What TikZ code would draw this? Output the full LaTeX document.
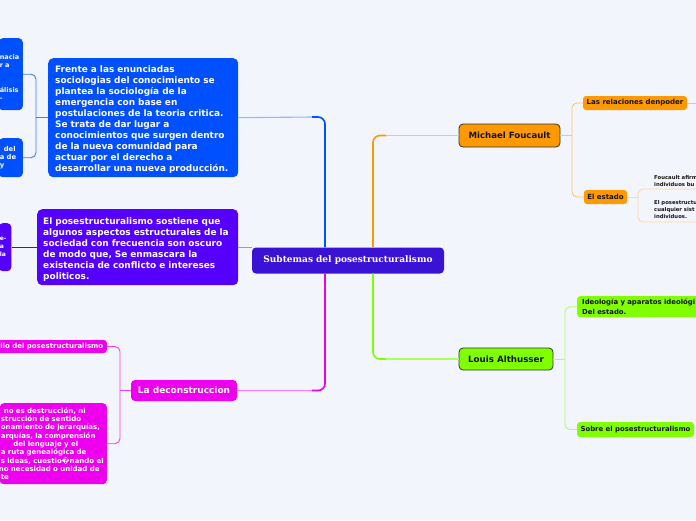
\documentclass[tikz,border=0pt]{standalone}
\usepackage{fontspec}
\setmainfont{DejaVu Sans}
\newfontfamily\serifbf{DejaVu Serif}
\definecolor{bgc}{RGB}{243,245,252}
\definecolor{bluec}{RGB}{0,80,255}
\definecolor{purc}{RGB}{85,0,255}
\definecolor{cenc}{RGB}{58,18,214}
\definecolor{magc}{RGB}{238,0,238}
\definecolor{orac}{RGB}{255,153,0}
\definecolor{grec}{RGB}{128,255,0}
\definecolor{bord}{RGB}{51,51,51}
\definecolor{txtc}{RGB}{20,20,20}
\definecolor{lblue}{RGB}{150,180,255}
\definecolor{lora}{RGB}{255,195,110}
\definecolor{lgre}{RGB}{170,255,100}
\definecolor{lmag}{RGB}{255,120,255}
\definecolor{lpur}{RGB}{160,140,240}
\definecolor{llora}{RGB}{255,215,160}
\begin{document}
\begin{tikzpicture}[x=1pt,y=-1pt,
  box/.style={rectangle, rounded corners=4pt, inner ysep=0pt},
  sbox/.style={rectangle, rounded corners=3pt, inner ysep=0pt},
  strong/.style={line width=1.6pt, rounded corners=7pt},
  soft/.style={line width=1.1pt},
  brk/.style={line width=0.9pt, rounded corners=5pt}]
\useasboundingbox (0,0) rectangle (696,520);
\fill[bgc] (0,0) rectangle (696,520);

% coordinates
\coordinate (eb) at (325,117);
\coordinate (ebh) at (312,117);
\coordinate (eo) at (373,135.5);
\coordinate (eoh) at (386,135.5);
\coordinate (eg) at (373,359);
\coordinate (egh) at (386,359);
\coordinate (em) at (325,390.5);
\coordinate (emh) at (312,390.5);
\coordinate (bx) at (36,117);
\coordinate (ox) at (572,135.5);
\coordinate (gx) at (565,359);
\coordinate (mx) at (120,390.5);
\coordinate (ex) at (638,205);
\coordinate (re) at (696,0);

% nodes
\node[box, fill=cenc, text=white, minimum width=192pt, minimum height=26pt,
  font=\serifbf\bfseries\fontsize{9}{10}\selectfont] (c) at (348,260.5) {Subtemas del posestructuralismo};

\node[box, rounded corners=5pt, fill=bluec, text=white, anchor=north west, inner xsep=7pt, text width=176pt,
  align=left, minimum height=119pt, font=\bfseries\fontsize{8.95}{11}\selectfont] (bigblue) at (48,58)
  {\rule{0pt}{10.5pt}Frente a las enunciadas\\sociologias del conocimiento se\\plantea la sociología de la\\emergencia con base en\\postulaciones de la teoria critica.\\Se trata de dar lugar a\\conocimientos que surgen dentro\\de la nueva comunidad para\\actuar por el derecho a\\desarrollar una nueva producción.};

\node[box, rounded corners=5pt, fill=purc, text=white, anchor=north west, inner xsep=6pt, text width=189pt,
  align=left, minimum height=76pt, font=\bfseries\fontsize{8.95}{11}\selectfont] (purple) at (37,209)
  {\rule{0pt}{10.5pt}El posestructuralismo sostiene que\\algunos aspectos estructurales de la\\sociedad con frecuencia son oscuro\\de modo que, Se enmascara la\\existencia de conflicto e intereses\\politicos.};

\node[box, fill=bluec, text=white, anchor=north east, inner xsep=1pt, text width=22pt, align=left,
  minimum height=72pt, font=\bfseries\fontsize{6.5}{8.2}\selectfont] (bn1) at (23,38)
  {\rule{0pt}{11.5pt}nacia\\r a\\\mbox{}\\\mbox{}\\álisis\\-};
\node[box, fill=bluec, text=white, anchor=north east, inner xsep=1pt, text width=22pt, align=left,
  minimum height=39pt, font=\bfseries\fontsize{6.8}{8}\selectfont] (bn2) at (23,138)
  {\hspace*{4pt}del\\a de\\y};
\node[box, fill=purc, text=white, anchor=north east, inner xsep=1pt, text width=10.5pt, align=left,
  minimum height=48pt, font=\bfseries\fontsize{6}{8}\selectfont] (ps) at (11.5,223)
  {e-\\a\\la};

\node[box, fill=magc, text=white, minimum width=106pt, minimum height=21pt,
  font=\bfseries\fontsize{9}{10}\selectfont] (dec) at (184,390.5) {La deconstruccion};
\node[sbox, fill=magc, text=white, anchor=east, inner xsep=3.5pt, minimum height=13pt,
  font=\bfseries\fontsize{7}{8}\selectfont] (m1) at (107,346.5) {llo del posestructuralismo};
\node[box, fill=magc, text=white, anchor=north east, inner xsep=1pt, text width=105pt, align=left,
  minimum height=81pt, font=\bfseries\fontsize{7}{8.3}\selectfont] (m2) at (107,403)
  {\mbox{\hspace*{3pt}no es destrucción, ni}\\\mbox{strucción de sentido}\\\mbox{onamiento de jerarquías,}\\\mbox{arquías, la comprensión}\\\mbox{\hspace*{12.5pt}del lenguaje y el}\\\mbox{a ruta genealógica de}\\\mbox{s ideas, cuestio�nando el}\\\mbox{\hspace*{-2pt}no necesidad o unidad de}\\te};

\node[box, fill=orac, draw=bord, line width=0.8pt, text=txtc, minimum width=101pt, minimum height=23pt,
  font=\bfseries\fontsize{8.6}{10}\selectfont] (mf) at (509.5,135.5) {Michael Foucault};
\node[sbox, fill=orac, text=txtc, minimum width=104pt, minimum height=14pt,
  font=\bfseries\fontsize{7}{9}\selectfont] (lr) at (635,103) {Las relaciones denpoder};
\node[sbox, fill=orac, text=txtc, minimum width=43pt, minimum height=14pt,
  font=\bfseries\fontsize{7}{9}\selectfont] (es) at (605.5,197) {El estado};
\node[anchor=south west, inner xsep=0pt, inner ysep=2.5pt, align=left, text=txtc,
  font=\bfseries\fontsize{5.3}{7}\selectfont] (t1) at (654,189) {Foucault afirm\\individuos bu};
\node[anchor=south west, inner xsep=0pt, inner ysep=3.5pt, align=left, text=txtc,
  font=\bfseries\fontsize{5.3}{7}\selectfont] (t2) at (654,222) {El posestructu\\cualquier sist\\individuos.};

\node[box, fill=grec, draw=bord, line width=0.8pt, text=txtc, minimum width=94pt, minimum height=22pt,
  font=\bfseries\fontsize{8.7}{10}\selectfont] (la) at (506,359) {Louis Althusser};
\node[sbox, fill=grec, text=txtc, anchor=north west, inner xsep=5pt, text width=140pt, align=left,
  minimum height=21pt, font=\bfseries\fontsize{6.9}{9.5}\selectfont] (id) at (577,296)
  {Ideología y aparatos ideológi\\Del estado.};
\node[sbox, fill=grec, text=txtc, minimum width=117pt, minimum height=15pt,
  font=\bfseries\fontsize{6.9}{9}\selectfont] (so) at (635.5,429.5) {Sobre el posestructuralismo};

% central branches
\draw[strong, draw=bluec] (c.north -| eb) |- (ebh);
\draw[soft, draw=lblue] (ebh) -- (bigblue.east);
\draw[strong, draw=orac] (c.north -| eo) |- (eoh);
\draw[soft, draw=lora] (eoh) -- (mf.west);
\draw[strong, draw=grec] (c.south -| eg) |- (egh);
\draw[soft, draw=lgre] (egh) -- (la.west);
\draw[strong, draw=magc] (c.south -| em) |- (emh);
\draw[soft, draw=lmag] (emh) -- (dec.east);
\draw[soft, draw=lpur] (purple.east) -- (purple.east -| c.west);

% secondary brackets
\draw[brk, draw=bluec!75] (bn1.east) -| (bx) |- (bn2.east);
\draw[brk, draw=bluec!75] (bigblue.west) -- (bigblue.west -| bx);
\draw[brk, draw=purc] (purple.west) -- (ps.east);
\draw[brk, draw=magc!75] (m1.east) -| (mx) |- (m2.east);
\draw[brk, draw=magc!75] (dec.west) -- (dec.west -| mx);
\draw[brk, draw=lora] (lr.west) -| (ox) |- (es.west);
\draw[brk, draw=lora] (mf.east) -- (mf.east -| ox);
\draw[brk, draw=lora] (lr.east) -- (lr.east -| re);
\draw[brk, draw=llora] (es.east) -- (es.east -| ex);
\draw[brk, draw=llora] (t1.south -| re) -| (ex) |- (t2.south -| re);
\draw[brk, draw=lgre] (id.west) -| (gx) |- (so.west);
\draw[brk, draw=lgre] (la.east) -- (la.east -| gx);
\end{tikzpicture}
\end{document}
